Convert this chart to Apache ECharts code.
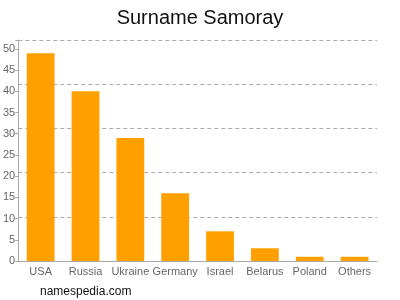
<!DOCTYPE html>
<html>
<head>
<meta charset="utf-8">
<script src="https://cdn.jsdelivr.net/npm/echarts@6/dist/echarts.min.js"></script>
<style>html,body{margin:0;padding:0;background:#fff}#c{width:400px;height:300px}</style>
</head>
<body>
<div id="c"></div>
<script>
var categories = ['USA', 'Russia', 'Ukraine', 'Germany', 'Israel', 'Belarus', 'Poland', 'Others'];
var values = [49, 40, 29, 16, 7, 3, 1, 1];
var yMax = 52.1;
var yStep = 5;

var chart = echarts.init(document.getElementById('c'), null, {renderer: 'canvas'});
chart.setOption({
  animation: false,
  backgroundColor: '#fff',
  title: {
    text: 'Surname Samoray', left: 'center', top: 3,
    textStyle: {fontFamily: 'Liberation Sans, Arial, sans-serif', fontSize: 20, fontWeight: 'normal', color: '#111'}
  },
  graphic: [{
    type: 'text', left: 40, top: 286,
    style: {text: 'namespedia.com', fontFamily: 'Liberation Sans, Arial, sans-serif', fontSize: 12, fill: '#111'}
  }],
  grid: {left: 17, right: 23, top: 40, bottom: 39, containLabel: false},
  xAxis: {
    type: 'category', data: categories,
    axisLine: {lineStyle: {color: '#aaa'}},
    axisTick: {alignWithLabel: true, length: 4, lineStyle: {color: '#aaa'}},
    axisLabel: {color: '#666', fontSize: 11, fontFamily: 'Liberation Sans, Arial, sans-serif', margin: 5, interval: 0}
  },
  yAxis: [{
    type: 'value', min: 0, max: yMax, interval: yStep,
    axisLine: {show: true, lineStyle: {color: '#aaa'}},
    axisTick: {show: true, length: 3, lineStyle: {color: '#aaa'}},
    splitLine: {show: false},
    axisLabel: {color: '#666', fontSize: 11, fontFamily: 'Liberation Sans, Arial, sans-serif', margin: 3,
      formatter: function (v) { return (Math.abs(v % yStep) < 1e-6) ? String(v) : ''; }}
  }, {
    type: 'value', min: 0, max: 5, interval: 1, position: 'left',
    axisLine: {show: false}, axisTick: {show: false}, axisLabel: {show: false},
    splitLine: {show: true, lineStyle: {color: '#aaa', type: [4, 3], width: 1}}
  }],
  series: [{
    type: 'bar', data: values, yAxisIndex: 0,
    barCategoryGap: '38%',
    itemStyle: {color: '#ffa000'}
  }]
});
</script>
</body>
</html>
